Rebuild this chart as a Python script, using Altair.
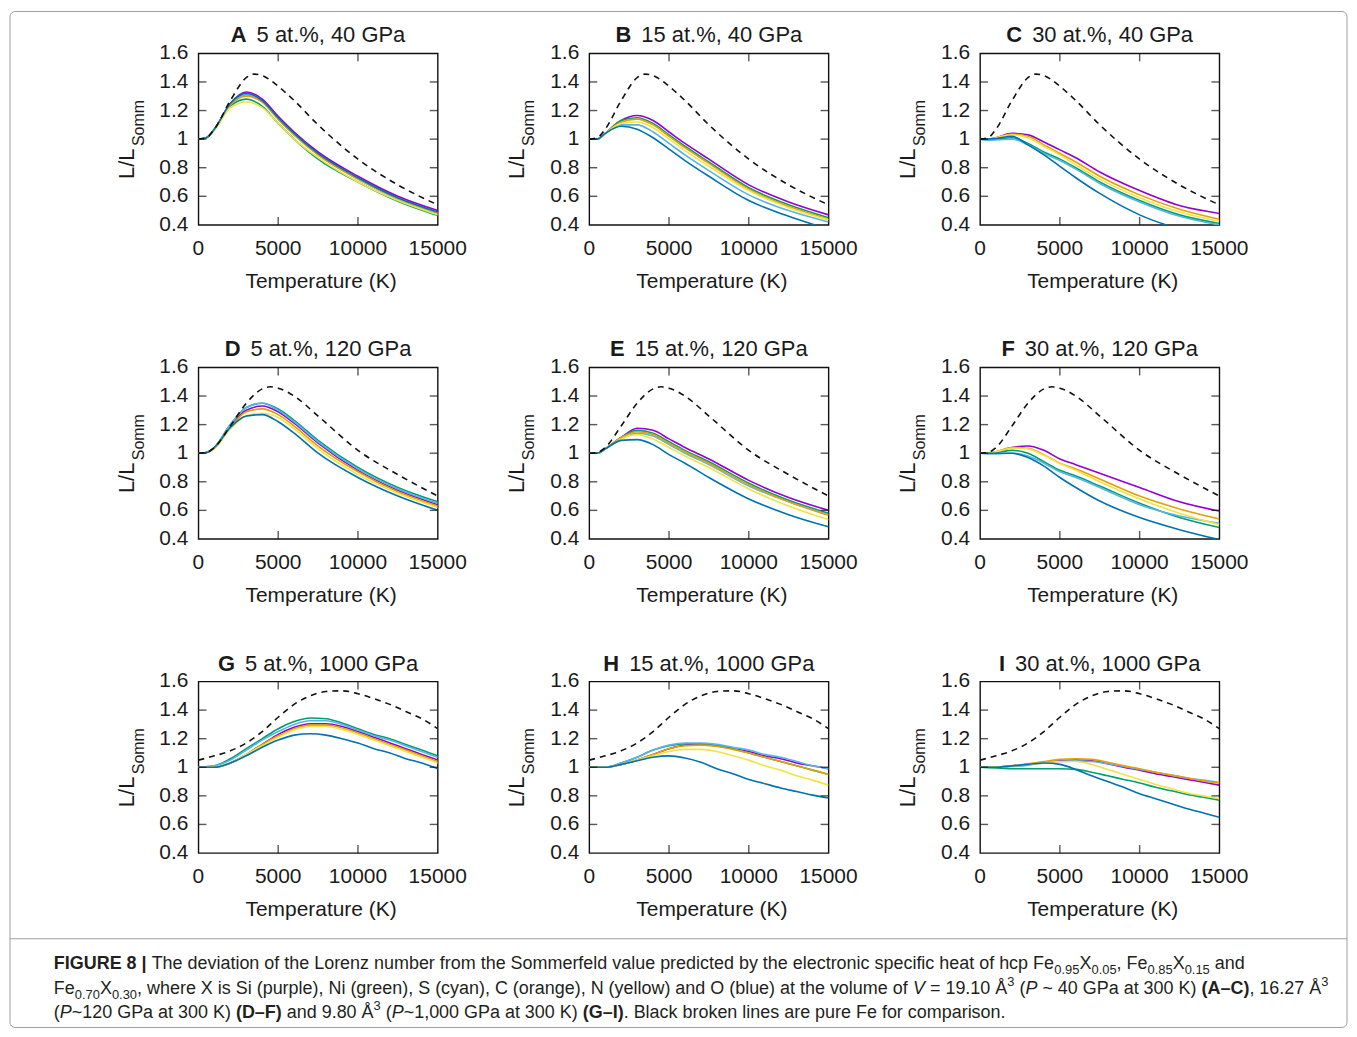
import altair as alt
import pandas as pd

FONT = "Liberation Sans"
W, H = 240, 172

ELEMENTS = ["Si", "Ni", "S", "C", "N", "O"]
COLORS = ["#9400D3", "#009E73", "#56B4E9", "#E69F00", "#F0E442", "#0072B2"]

X_TICKS = [0, 5000, 10000, 15000]
X_TICK_LABELS = ["0", "5000", "10000", "15000"]
Y_TICKS = [0.4, 0.6, 0.8, 1.0, 1.2, 1.4, 1.6]
Y_TICK_LABELS = ["0.4", "0.6", "0.8", "1", "1.2", "1.4", "1.6"]
X_INNER = [5000, 10000]
Y_INNER = [0.6, 0.8, 1.0, 1.2, 1.4]

# temperature grids (K)
T_LOW = [0, 500, 1000, 2000, 3000, 4000, 5000, 6000, 7500, 10000, 12500, 15000]
T_HIGH = [0, 1000, 2000, 3000, 4000, 5000, 6000, 7000, 8000, 9000, 10000, 11000, 12000, 13000, 14000, 15000]
T_FE40 = [0, 500, 1000, 2000, 3000, 3500, 4000, 5000, 6000, 7500, 10000, 12500, 15000]
T_FE120 = [0, 500, 1000, 2000, 3000, 4000, 4500, 5000, 6000, 7500, 10000, 12500, 15000]

# pure Fe (dashed)
FE_40 = [1.0, 1.01, 1.07, 1.27, 1.43, 1.455, 1.445, 1.37, 1.27, 1.10, 0.86, 0.68, 0.54]
FE_120 = [1.0, 1.005, 1.04, 1.19, 1.35, 1.45, 1.465, 1.455, 1.40, 1.26, 1.02, 0.85, 0.70]
FE_1000 = [1.05, 1.08, 1.115, 1.17, 1.25, 1.35, 1.44, 1.50, 1.53, 1.535, 1.515, 1.48, 1.44, 1.39, 1.34, 1.27]

# A: 5 at.%, 40 GPa
A_SI = [1.0, 1.01, 1.07, 1.25, 1.33, 1.28, 1.16, 1.05, 0.91, 0.74, 0.60, 0.50]
A_NI = [1.0, 1.01, 1.07, 1.23, 1.28, 1.23, 1.11, 1.00, 0.86, 0.70, 0.565, 0.465]
A_S = [1.0, 1.01, 1.07, 1.24, 1.31, 1.26, 1.14, 1.03, 0.89, 0.72, 0.58, 0.48]
A_C = [1.0, 1.01, 1.07, 1.24, 1.30, 1.26, 1.14, 1.03, 0.89, 0.72, 0.585, 0.485]
A_N = [1.0, 1.01, 1.06, 1.22, 1.26, 1.22, 1.11, 1.00, 0.87, 0.70, 0.57, 0.47]
A_O = [1.0, 1.01, 1.07, 1.25, 1.32, 1.27, 1.15, 1.04, 0.90, 0.73, 0.59, 0.49]

# B: 15 at.%, 40 GPa
B_SI = [1.0, 1.0, 1.04, 1.13, 1.165, 1.13, 1.05, 0.97, 0.86, 0.68, 0.56, 0.47]
B_NI = [1.0, 1.0, 1.04, 1.13, 1.15, 1.11, 1.03, 0.95, 0.84, 0.66, 0.54, 0.45]
B_S = [1.0, 1.0, 1.04, 1.10, 1.10, 1.05, 0.97, 0.89, 0.78, 0.61, 0.50, 0.42]
B_C = [1.0, 1.0, 1.04, 1.12, 1.14, 1.10, 1.02, 0.94, 0.83, 0.65, 0.53, 0.44]
B_N = [1.0, 1.0, 1.04, 1.11, 1.12, 1.08, 1.00, 0.92, 0.81, 0.64, 0.52, 0.435]
B_O = [1.0, 1.0, 1.04, 1.09, 1.07, 1.01, 0.93, 0.85, 0.74, 0.57, 0.46, 0.37]

# C: 30 at.%, 40 GPa
C_SI = [1.0, 1.0, 1.01, 1.04, 1.03, 0.98, 0.925, 0.87, 0.77, 0.64, 0.535, 0.48]
C_NI = [1.0, 0.995, 1.0, 1.01, 0.97, 0.91, 0.86, 0.80, 0.70, 0.57, 0.47, 0.41]
C_S = [1.0, 0.995, 0.995, 1.0, 0.96, 0.90, 0.85, 0.79, 0.69, 0.56, 0.46, 0.40]
C_C = [1.0, 1.0, 1.01, 1.035, 1.02, 0.96, 0.90, 0.84, 0.74, 0.61, 0.51, 0.44]
C_N = [1.0, 1.0, 1.01, 1.03, 1.01, 0.95, 0.89, 0.82, 0.72, 0.59, 0.49, 0.425]
C_O = [1.0, 1.0, 1.005, 1.02, 0.96, 0.89, 0.81, 0.73, 0.62, 0.47, 0.37, 0.30]

# D: 5 at.%, 120 GPa
D_SI = [1.0, 1.005, 1.04, 1.19, 1.30, 1.33, 1.29, 1.21, 1.07, 0.88, 0.74, 0.64]
D_NI = [1.0, 1.005, 1.04, 1.20, 1.32, 1.35, 1.31, 1.23, 1.09, 0.90, 0.76, 0.66]
D_S = [1.0, 1.005, 1.04, 1.20, 1.32, 1.35, 1.30, 1.22, 1.08, 0.89, 0.75, 0.65]
D_C = [1.0, 1.005, 1.04, 1.18, 1.29, 1.31, 1.27, 1.19, 1.05, 0.87, 0.73, 0.63]
D_N = [1.0, 1.005, 1.03, 1.17, 1.26, 1.28, 1.25, 1.17, 1.03, 0.85, 0.72, 0.62]
D_O = [1.0, 1.005, 1.04, 1.18, 1.26, 1.27, 1.22, 1.14, 1.00, 0.83, 0.70, 0.60]

# E: 15 at.%, 120 GPa
E_SI = [1.0, 1.0, 1.03, 1.11, 1.175, 1.16, 1.10, 1.04, 0.96, 0.81, 0.69, 0.60]
E_NI = [1.0, 1.0, 1.03, 1.11, 1.16, 1.14, 1.08, 1.02, 0.94, 0.79, 0.67, 0.58]
E_S = [1.0, 1.0, 1.03, 1.10, 1.14, 1.12, 1.06, 1.00, 0.92, 0.77, 0.66, 0.57]
E_C = [1.0, 1.0, 1.03, 1.11, 1.15, 1.13, 1.07, 1.01, 0.93, 0.78, 0.66, 0.565]
E_N = [1.0, 1.0, 1.03, 1.10, 1.13, 1.10, 1.04, 0.98, 0.90, 0.75, 0.63, 0.535]
E_O = [1.0, 1.0, 1.03, 1.09, 1.095, 1.06, 0.99, 0.93, 0.83, 0.68, 0.57, 0.485]

# F: 30 at.%, 120 GPa
F_SI = [1.0, 1.0, 1.01, 1.04, 1.05, 1.02, 0.96, 0.92, 0.86, 0.76, 0.66, 0.595]
F_NI = [1.0, 1.0, 1.005, 1.02, 1.0, 0.94, 0.88, 0.84, 0.77, 0.65, 0.55, 0.48]
F_S = [1.0, 0.995, 0.995, 1.0, 0.98, 0.93, 0.87, 0.83, 0.76, 0.64, 0.56, 0.51]
F_C = [1.0, 1.0, 1.01, 1.04, 1.035, 0.99, 0.93, 0.89, 0.82, 0.70, 0.61, 0.54]
F_N = [1.0, 1.0, 1.01, 1.035, 1.03, 0.985, 0.93, 0.88, 0.80, 0.68, 0.58, 0.50]
F_O = [1.0, 1.0, 1.0, 1.0, 0.97, 0.91, 0.83, 0.76, 0.665, 0.55, 0.465, 0.395]

# G: 5 at.%, 1000 GPa
G_SI = [1.0, 1.0, 1.03, 1.09, 1.16, 1.23, 1.28, 1.305, 1.305, 1.285, 1.25, 1.21, 1.17, 1.13, 1.09, 1.05]
G_NI = [1.0, 1.01, 1.06, 1.13, 1.20, 1.27, 1.32, 1.345, 1.34, 1.31, 1.27, 1.23, 1.20, 1.16, 1.12, 1.08]
G_S = [1.0, 1.01, 1.05, 1.12, 1.19, 1.25, 1.30, 1.325, 1.325, 1.30, 1.26, 1.22, 1.19, 1.15, 1.11, 1.07]
G_C = [1.0, 1.0, 1.03, 1.09, 1.16, 1.22, 1.27, 1.295, 1.295, 1.275, 1.24, 1.20, 1.16, 1.12, 1.08, 1.04]
G_N = [1.0, 1.0, 1.03, 1.09, 1.15, 1.21, 1.26, 1.285, 1.285, 1.265, 1.23, 1.19, 1.15, 1.11, 1.07, 1.03]
G_O = [1.0, 1.0, 1.03, 1.08, 1.14, 1.19, 1.225, 1.235, 1.225, 1.20, 1.17, 1.13, 1.10, 1.06, 1.03, 0.99]

# H: 15 at.%, 1000 GPa
H_SI = [1.0, 1.0, 1.02, 1.05, 1.09, 1.13, 1.155, 1.16, 1.15, 1.13, 1.11, 1.08, 1.06, 1.03, 1.01, 0.99]
H_NI = [1.0, 1.0, 1.03, 1.07, 1.12, 1.15, 1.165, 1.165, 1.15, 1.13, 1.10, 1.07, 1.04, 1.01, 0.98, 0.95]
H_S = [1.0, 1.0, 1.03, 1.07, 1.12, 1.155, 1.17, 1.17, 1.16, 1.14, 1.12, 1.09, 1.07, 1.04, 1.01, 0.99]
H_C = [1.0, 1.0, 1.02, 1.05, 1.09, 1.13, 1.15, 1.155, 1.145, 1.125, 1.10, 1.07, 1.04, 1.01, 0.98, 0.95]
H_N = [1.0, 1.0, 1.02, 1.05, 1.08, 1.11, 1.125, 1.125, 1.11, 1.08, 1.05, 1.01, 0.98, 0.94, 0.91, 0.875]
H_O = [1.0, 1.0, 1.02, 1.045, 1.07, 1.08, 1.065, 1.035, 0.99, 0.955, 0.915, 0.885, 0.855, 0.83, 0.805, 0.785]

# I: 30 at.%, 1000 GPa
I_SI = [1.0, 1.0, 1.01, 1.02, 1.035, 1.045, 1.05, 1.045, 1.025, 1.0, 0.98, 0.955, 0.935, 0.915, 0.895, 0.875]
I_NI = [1.0, 0.995, 0.99, 0.99, 0.99, 0.99, 0.985, 0.965, 0.94, 0.915, 0.89, 0.86, 0.835, 0.81, 0.79, 0.77]
I_S = [1.0, 1.0, 1.005, 1.015, 1.03, 1.04, 1.045, 1.04, 1.025, 1.005, 0.985, 0.965, 0.945, 0.925, 0.91, 0.895]
I_C = [1.0, 1.0, 1.01, 1.025, 1.04, 1.055, 1.06, 1.055, 1.035, 1.01, 0.99, 0.965, 0.945, 0.925, 0.905, 0.89]
I_N = [1.0, 1.0, 1.01, 1.02, 1.03, 1.04, 1.04, 1.02, 0.985, 0.95, 0.915, 0.88, 0.85, 0.82, 0.80, 0.78]
I_O = [1.0, 1.0, 1.01, 1.02, 1.03, 1.02, 0.985, 0.94, 0.90, 0.86, 0.815, 0.78, 0.745, 0.71, 0.68, 0.65]

PANEL_LETTERS = ["A", "B", "C", "D", "E", "F", "G", "H", "I"]
PANEL_LABELS = ["5 at.%, 40 GPa", "15 at.%, 40 GPa", "30 at.%, 40 GPa",
                "5 at.%, 120 GPa", "15 at.%, 120 GPa", "30 at.%, 120 GPa",
                "5 at.%, 1000 GPa", "15 at.%, 1000 GPa", "30 at.%, 1000 GPa"]
X_TITLE = "Temperature (K)"

CAPTION_LINES = [
    [("FIGURE 8 | ", "b"),
     ("The deviation of the Lorenz number from the Sommerfeld value predicted by the electronic specific heat of hcp Fe", "n"),
     ("0.95", "sub"), ("X", "n"), ("0.05", "sub"), (", Fe", "n"), ("0.85", "sub"), ("X", "n"), ("0.15", "sub"), (" and", "n")],
    [("Fe", "n"), ("0.70", "sub"), ("X", "n"), ("0.30", "sub"),
     (", where X is Si (purple), Ni (green), S (cyan), C (orange), N (yellow) and O (blue) at the volume of ", "n"),
     ("V", "i"), (" = 19.10 Å", "n"), ("3", "sup"), (" (", "n"), ("P", "i"), (" ~ 40 GPa at 300 K) ", "n"),
     ("(A–C)", "b"), (", 16.27 Å", "n"), ("3", "sup")],
    [("(", "n"), ("P", "i"), ("~120 GPa at 300 K) ", "n"), ("(D–F)", "b"), (" and 9.80 Å", "n"), ("3", "sup"),
     (" (", "n"), ("P", "i"), ("~1,000 GPa at 300 K) ", "n"), ("(G–I)", "b"),
     (". Black broken lines are pure Fe for comparison.", "n")],
]

# ---- Arial / Liberation Sans advance widths (per 1000 em) ----
REG = {" ": 278, "%": 889, "(": 333, ")": 333, ",": 278, "-": 333, ".": 278, "/": 278, ":": 278,
       "=": 584, "|": 260, "~": 584, "Å": 667, "–": 556}
for d in "0123456789":
    REG[d] = 556
for ch, w in zip("ABCDEFGHIJKLMNOPQRSTUVWXYZ",
                 [667, 667, 722, 722, 667, 611, 778, 722, 278, 500, 667, 556, 833, 722, 778, 667, 778, 722, 667, 611, 722, 667, 944, 667, 667, 611]):
    REG[ch] = w
for ch, w in zip("abcdefghijklmnopqrstuvwxyz",
                 [556, 556, 500, 556, 556, 278, 556, 556, 222, 222, 500, 222, 833, 556, 556, 556, 556, 333, 500, 278, 556, 500, 722, 500, 500, 500]):
    REG[ch] = w
BOLD = dict(REG)
BOLD.update({"|": 280, "A": 722, "B": 722, "J": 556, "K": 722, "L": 611})


def tw(s, bold=False):
    tbl = BOLD if bold else REG
    return sum(tbl.get(c, 556) for c in s) / 1000.0


ONE = pd.DataFrame({"k": [0]})
INK = "#1a1a1a"


def const_text(txt, x, y, size, weight="normal", style="normal", angle=0, align="left", color=INK):
    return alt.Chart(ONE).mark_text(
        text=txt, font=FONT, fontSize=size, fontWeight=weight, fontStyle=style,
        angle=angle, align=align, baseline="alphabetic", color=color,
    ).encode(x=alt.value(x), y=alt.value(y))


X_SCALE = alt.Scale(domain=[0, 15000], nice=False, zero=False)
Y_SCALE = alt.Scale(domain=[0.4, 1.6], nice=False, zero=False)
TX = alt.X("T:Q", scale=X_SCALE, axis=None)
TY = alt.Y("L:Q", scale=Y_SCALE, axis=None)
XLAB = pd.DataFrame({"T": X_TICKS, "lab": X_TICK_LABELS})
YLAB = pd.DataFrame({"L": Y_TICKS, "lab": Y_TICK_LABELS})
XT = pd.DataFrame({"T": X_INNER})
YT = pd.DataFrame({"L": Y_INNER})
FS = 21


def panel(idx, t, series, t_fe, fe, extra=()):
    letter, label = PANEL_LETTERS[idx], PANEL_LABELS[idx]
    rows = [{"T": tt, "L": v, "el": el} for el, vals in zip(ELEMENTS, series) for tt, v in zip(t, vals)]
    df = pd.DataFrame(rows)
    lines = alt.Chart(df).mark_line(clip=True, strokeWidth=1.6, interpolate="monotone").encode(
        x=TX, y=TY,
        color=alt.Color("el:N", scale=alt.Scale(domain=ELEMENTS, range=COLORS), legend=None),
    )
    fe_df = pd.DataFrame({"T": t_fe, "L": fe})
    fe_line = alt.Chart(fe_df).mark_line(clip=True, color="#111111", strokeWidth=1.6, strokeDash=[6, 5],
                                         interpolate="monotone").encode(x=TX, y=TY)
    tk = dict(color="#111111", thickness=1.4, size=8)
    t_bottom = alt.Chart(XT).mark_tick(**tk).encode(x=TX, y=alt.value(H - 4))
    t_top = alt.Chart(XT).mark_tick(**tk).encode(x=TX, y=alt.value(4))
    t_left = alt.Chart(YT).mark_tick(**tk).encode(y=TY, x=alt.value(4))
    t_right = alt.Chart(YT).mark_tick(**tk).encode(y=TY, x=alt.value(W - 4))

    xlabels = alt.Chart(XLAB).mark_text(font=FONT, fontSize=FS, color=INK, align="center",
                                        baseline="alphabetic").encode(x=TX, y=alt.value(H + 30), text="lab:N")
    ylabels = alt.Chart(YLAB).mark_text(font=FONT, fontSize=FS, color=INK, align="right",
                                        baseline="middle").encode(y=TY, x=alt.value(-10), text="lab:N")
    xtitle = const_text(X_TITLE, W / 2 + 3, H + 63, FS, align="center")

    TS = 22
    wl = tw(letter, True) * TS
    wr = tw(label) * TS
    gap = 10
    x0 = W / 2 - (wl + gap + wr) / 2
    title_l = const_text(letter, x0, -11, TS, weight="bold")
    title_r = const_text(label, x0 + wl + gap, -11, TS)
    ytl1 = const_text("L/L", -65, 126, 22, angle=270)
    ytl2 = const_text("Somm", -55, 93, 16, angle=270)
    return alt.layer(lines, fe_line, t_bottom, t_top, t_left, t_right, xlabels, ylabels, xtitle,
                     title_l, title_r, ytl1, ytl2, *extra).properties(width=W, height=H)


# ---- caption + frame (drawn relative to panel G's plot origin) ----
FRAME_L, FRAME_R, FRAME_T, FRAME_B = -189, 1152, -672, 347
SEP_Y = 258
CAP_X0 = -145
CAP_BASE = [288, 313, 337]

line1_em = sum(tw(s, k == "b") * (0.72 if k in ("sub", "sup") else 1.0) for s, k in CAPTION_LINES[0])
CAP_SIZE = max(14.0, min(18.0, 1195.0 / line1_em))
KIND = {
    "n": dict(weight="normal", style="normal", f=1.0, dy=0),
    "b": dict(weight="bold", style="normal", f=1.0, dy=0),
    "i": dict(weight="normal", style="italic", f=1.0, dy=0),
    "sub": dict(weight="normal", style="normal", f=0.72, dy=0.28),
    "sup": dict(weight="normal", style="normal", f=0.72, dy=-0.4),
}
cap_layers = []
for line, base in zip(CAPTION_LINES, CAP_BASE):
    cx = CAP_X0
    for s, k in line:
        st = KIND[k]
        size = CAP_SIZE * st["f"]
        bold = k == "b"
        body = s.lstrip(" ")
        lead = tw(s[: len(s) - len(body)], bold) * size
        cap_layers.append(const_text(body.rstrip(" "), cx + lead, base + st["dy"] * CAP_SIZE, size,
                                     weight=st["weight"], style=st["style"], color="#231f20"))
        cx += tw(s, bold) * size

frame = alt.Chart(ONE).mark_rect(filled=False, stroke="#a0a0a0", strokeWidth=1, cornerRadius=5).encode(
    x=alt.value(FRAME_L), x2=alt.value(FRAME_R), y=alt.value(FRAME_T), y2=alt.value(FRAME_B))
sep = alt.Chart(ONE).mark_rule(color="#a0a0a0", strokeWidth=1).encode(
    x=alt.value(FRAME_L), x2=alt.value(FRAME_R), y=alt.value(SEP_Y))

panels = [
    panel(0, T_LOW, [A_SI, A_NI, A_S, A_C, A_N, A_O], T_FE40, FE_40),
    panel(1, T_LOW, [B_SI, B_NI, B_S, B_C, B_N, B_O], T_FE40, FE_40),
    panel(2, T_LOW, [C_SI, C_NI, C_S, C_C, C_N, C_O], T_FE40, FE_40),
    panel(3, T_LOW, [D_SI, D_NI, D_S, D_C, D_N, D_O], T_FE120, FE_120),
    panel(4, T_LOW, [E_SI, E_NI, E_S, E_C, E_N, E_O], T_FE120, FE_120),
    panel(5, T_LOW, [F_SI, F_NI, F_S, F_C, F_N, F_O], T_FE120, FE_120),
    panel(6, T_HIGH, [G_SI, G_NI, G_S, G_C, G_N, G_O], T_HIGH, FE_1000, extra=[frame, sep] + cap_layers),
    panel(7, T_HIGH, [H_SI, H_NI, H_S, H_C, H_N, H_O], T_HIGH, FE_1000),
    panel(8, T_HIGH, [I_SI, I_NI, I_S, I_C, I_N, I_O], T_HIGH, FE_1000),
]

chart = alt.concat(
    *panels, columns=3, spacing={"row": 143, "column": 152}, bounds="flush"
).properties(
    padding=0, background="white"
).configure_view(
    stroke="#111111", strokeWidth=1.4
)

chart.save("out.html", embed_options={"renderer": "svg", "actions": False})
